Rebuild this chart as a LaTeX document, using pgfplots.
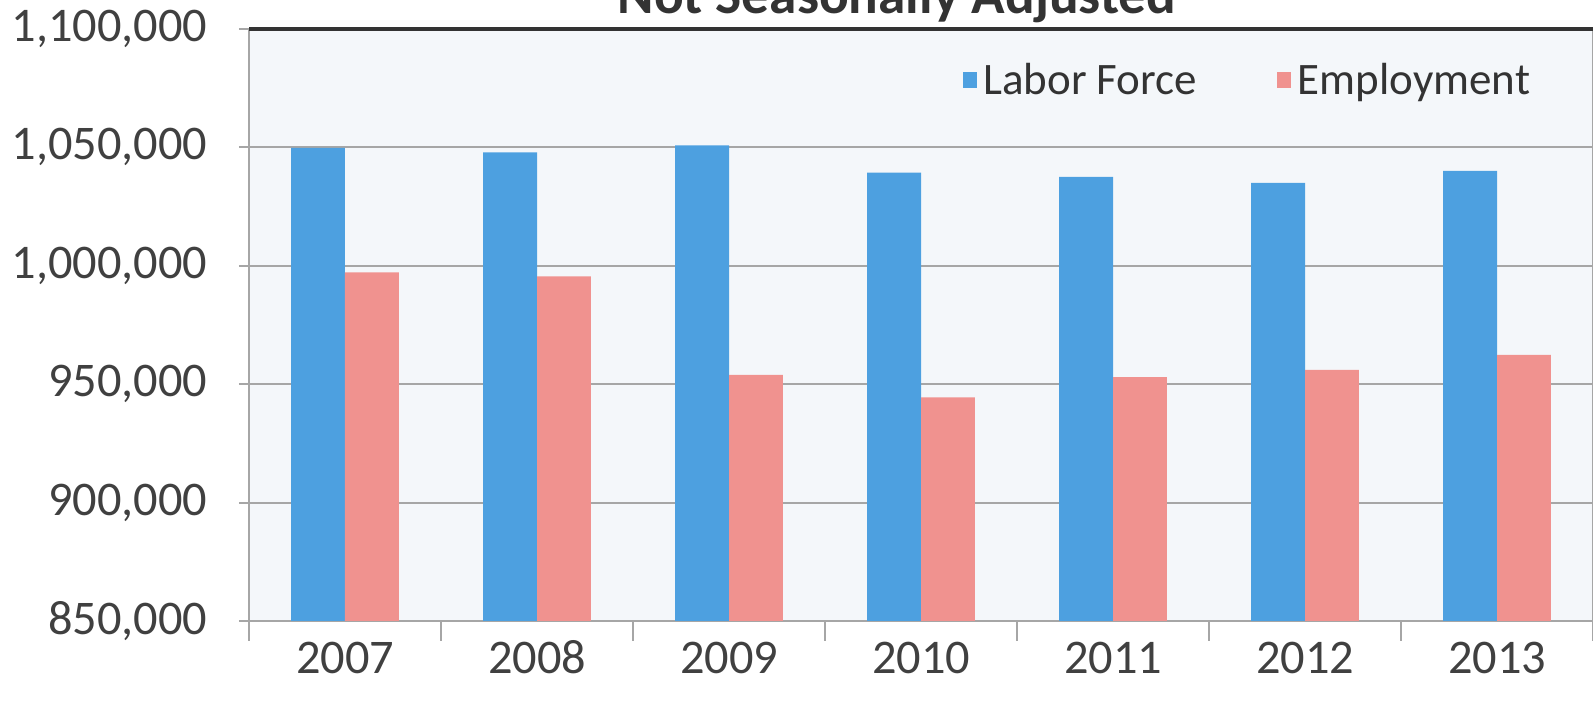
\documentclass[border=0pt]{standalone}
\usepackage{pgfplots}
\pgfplotsset{compat=1.18}
\usepackage{fontspec}
\setmainfont{Carlito}
\definecolor{lfblue}{RGB}{77,160,224}
\definecolor{empink}{RGB}{240,146,143}
\definecolor{bgc}{RGB}{244,247,250}
\definecolor{txt}{RGB}{64,64,64}
\begin{document}
\begin{tikzpicture}
\begin{axis}[
  scale only axis,
  width=403.2pt, height=177.6pt,
  xmin=-0.5, xmax=6.5,
  ymin=850000, ymax=1100000,
  ytick={850000,900000,...,1100000},
  scaled y ticks=false,
  xtick={0,...,6},
  xticklabels={2007,2008,2009,2010,2011,2012,2013},
  minor xtick={-0.5,0.5,...,6.5},
  tick pos=left,
  tick align=outside,
  major x tick style={draw=none},
  minor x tick style={draw=gray!70, line width=0.6pt},
  minor tick length=6pt,
  major tick length=3pt,
  y tick style={draw=gray!70, line width=0.6pt},
  ymajorgrids,
  grid style={draw=gray!70, line width=0.6pt},
  axis line style={draw=gray!70, line width=0.6pt},
  axis background/.style={fill=bgc},
  /pgf/number format/.cd, fixed, 1000 sep={,}, assume math mode=true,
  /pgfplots/.cd,
  tick label style={font=\fontsize{14.5}{16}\selectfont, text=txt},
  yticklabel style={xshift=-6pt},
  xticklabel style={anchor=base, yshift=-12.8pt},
  ybar, bar width=0.28,
  legend style={at={(0.523,0.912)}, anchor=west, draw=none, fill=none,
    font=\fontsize{13.5}{16}\selectfont, text=txt!80!black, legend columns=2,
    /tikz/every even column/.append style={column sep=22pt}},
  legend image code/.code={\fill[#1] (0pt,-2.2pt) rectangle (4.2pt,2.6pt);},
  clip=true,
]
\addplot[fill=lfblue, draw=none, bar shift=-0.14] coordinates {
  (0,1049800) (1,1047900) (2,1050900) (3,1039300) (4,1037600) (5,1035000) (6,1040100)};
\addlegendentry{Labor Force}
\addplot[fill=empink, draw=none, bar shift=0.14] coordinates {
  (0,997200) (1,995500) (2,953900) (3,944400) (4,953000) (5,956000) (6,962400)};
\addlegendentry{Employment}
\coordinate (ll) at (rel axis cs:0,0);
\coordinate (ul) at (rel axis cs:0,1);
\coordinate (ur) at (rel axis cs:1,1);
\end{axis}
\draw[line width=1pt, draw=black!80] (ul) -- (ur);
\node[anchor=base, font=\bfseries\fontsize{16.6}{18}\selectfont, text=txt!80!black] at ([xshift=194.4pt, yshift=182.1pt]ll) {Not Seasonally Adjusted};
\pgfresetboundingbox
\path[use as bounding box] ([xshift=-74.7pt, yshift=-24pt]ll) rectangle ([xshift=403.2pt, yshift=186.3pt]ll);
\end{tikzpicture}
\end{document}
